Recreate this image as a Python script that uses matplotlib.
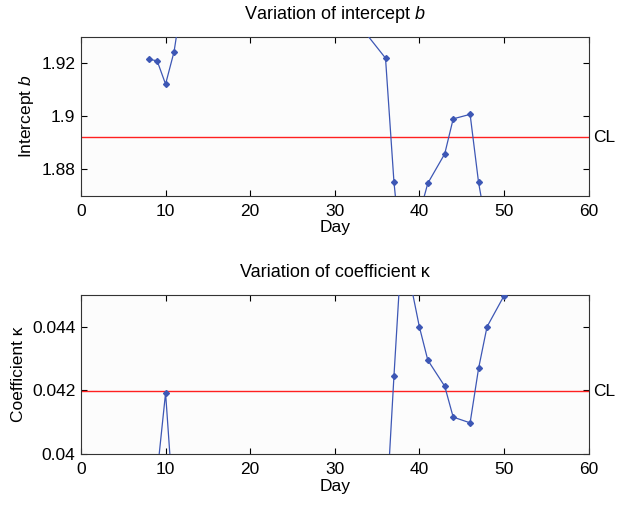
import matplotlib
matplotlib.use("Agg")
import matplotlib.pyplot as plt

plt.rcParams['font.family'] = ['Liberation Sans', 'DejaVu Sans']
plt.rcParams['mathtext.fontset'] = 'custom'
plt.rcParams['mathtext.it'] = 'Liberation Sans:italic'
plt.rcParams['mathtext.rm'] = 'Liberation Sans'

# intercept b (values outside the axis range only give the line direction)
days_b = [8, 9, 10, 11, 12, 33, 36, 37, 38, 40, 41, 43, 44, 46, 47, 48]
b_vals = [1.9215, 1.9209, 1.9121, 1.9243, 1.945, 1.934, 1.9219, 1.8751,
          1.843, 1.863, 1.8747, 1.8858, 1.8990, 1.9007, 1.8750, 1.857]
b_cl = 1.8921

# coefficient kappa
days_k = [9, 10, 11, 36, 37, 38, 39, 40, 41, 43, 44, 46, 47, 48, 50]
k_vals = [0.03937, 0.04192, 0.0381, 0.03775, 0.04246, 0.04688, 0.04532,
          0.04400, 0.04295, 0.04213, 0.04116, 0.04098, 0.04269, 0.04400, 0.04497]
k_cl = 0.04198

x_ticks = [0, 10, 20, 30, 40, 50, 60]
b_ticks = [1.88, 1.90, 1.92]
b_ticklabels = ['1.88', '1.9', '1.92']
k_ticks = [0.040, 0.042, 0.044]
k_ticklabels = ['0.04', '0.042', '0.044']

line_col = '#3d57b5'
cl_col = '#ff2020'
fs = 12.5

fig = plt.figure(figsize=(6.22, 5.13), dpi=100)
ax1 = fig.add_axes([0.1302, 0.6185, 0.816, 0.31])
ax2 = fig.add_axes([0.1302, 0.115, 0.816, 0.31])


def style(ax, ticks, labels, ylim, cl, ylabel, title):
    ax.set_facecolor('#fcfcfc')
    ax.axhline(cl, color=cl_col, lw=1.0, zorder=2)
    ax.set_xlim(0, 60)
    ax.set_ylim(*ylim)
    ax.set_xticks(x_ticks)
    ax.set_yticks(ticks)
    ax.set_yticklabels(labels)
    ax.tick_params(direction='in', top=True, right=True, length=4,
                   labelsize=fs, width=0.8)
    ax.tick_params(axis='x', pad=6)
    ax.tick_params(axis='y', pad=4)
    for s in ax.spines.values():
        s.set_color('#333333')
        s.set_linewidth(0.8)
    ax.set_xlabel('Day', fontsize=fs, labelpad=1)
    ax.set_ylabel(ylabel, fontsize=fs, labelpad=4)
    ax.set_title(title, fontsize=13, pad=13)
    ax.text(1.01, cl, 'CL', transform=ax.get_yaxis_transform(),
            va='center', ha='left', fontsize=fs)


ax1.plot(days_b, b_vals, '-', color=line_col, lw=0.9, marker='D', ms=3,
         zorder=3)
style(ax1, b_ticks, b_ticklabels, (1.87, 1.93), b_cl,
      r'Intercept $b$', r'Variation of intercept $b$')

ax2.plot(days_k, k_vals, '-', color=line_col, lw=0.9, marker='D', ms=3,
         zorder=3)
style(ax2, k_ticks, k_ticklabels, (0.040, 0.045), k_cl,
      'Coefficient \u03ba', 'Variation of coefficient \u03ba')

fig.savefig('out.png', dpi=100)
